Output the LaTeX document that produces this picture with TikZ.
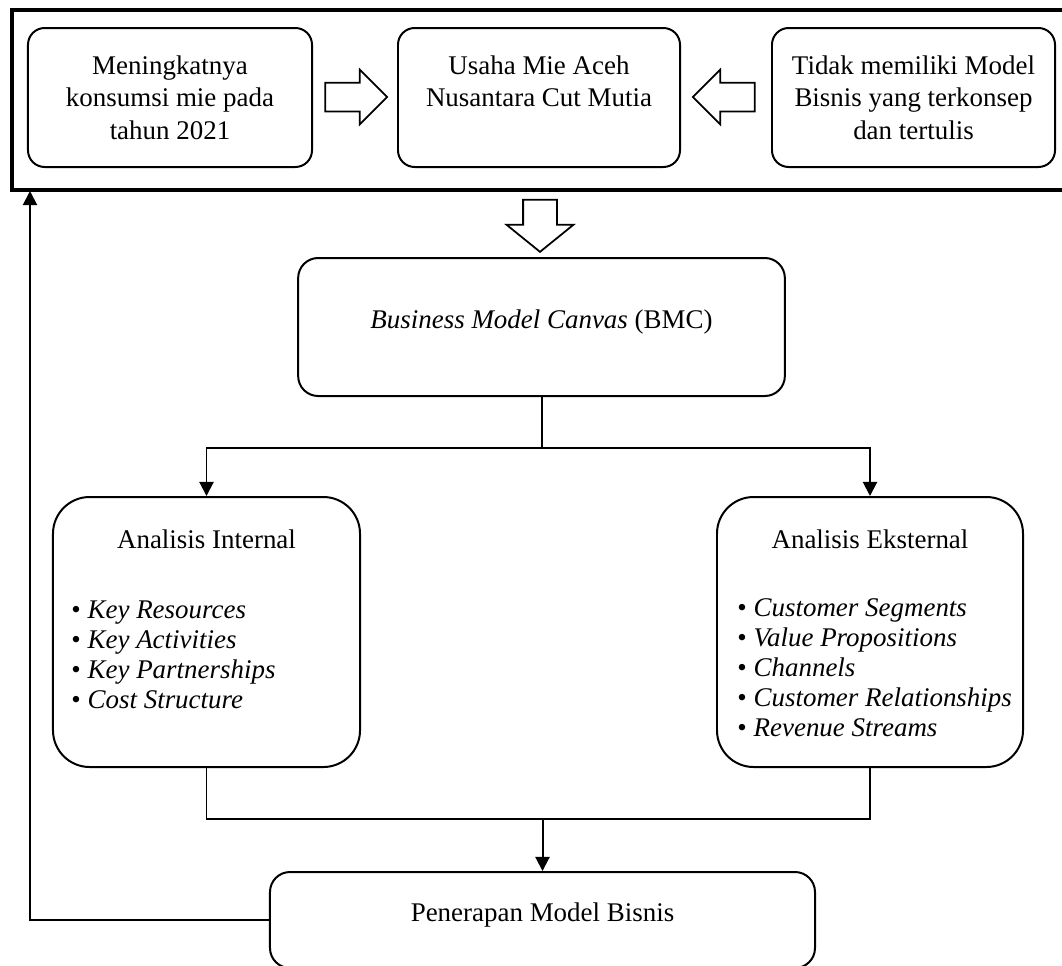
\documentclass[tikz,border=0pt]{standalone}
\usepackage{fontspec}
\setmainfont{Liberation Serif}
\usetikzlibrary{arrows.meta,shapes.arrows}

\begin{document}
\begin{tikzpicture}[x=0.015cm, y=-0.015cm,
	font=\fontsize{11.5}{13.8}\selectfont,
	frame/.style={draw, line width=1.3pt, inner sep=0pt},
	box/.style={draw, line width=0.85pt, rounded corners=0.25cm, align=center, inner sep=0pt},
	bigbox/.style={draw, line width=0.85pt, rounded corners=0.55cm, inner sep=0pt},
	blockarrow/.style={draw, line width=0.75pt, single arrow, inner sep=0pt},
	link/.style={line width=0.85pt},
	tip/.style={-{Triangle[length=6pt,width=6pt]}},
	list/.style={anchor=north west, align=left, inner sep=0pt, font=\fontsize{11.5}{12.8}\selectfont}]
	\useasboundingbox (0,0) rectangle (1062,965);

	% Top frame with the three starting points
	\node[frame, minimum width=16.02cm, minimum height=2.7cm] (topframe) at (546,100) {};
	\node[box, minimum width=4.26cm, minimum height=2.085cm] (trend) at (170,97.5) {Meningkatnya\\konsumsi mie pada\\tahun 2021};
	\node[box, minimum width=4.23cm, minimum height=2.085cm] (usaha) at (539,97.5) {Usaha Mie Aceh\\Nusantara Cut Mutia\\~};
	\node[box, minimum width=4.245cm, minimum height=2.085cm] (problem) at (913.5,97.5) {Tidak memiliki Model\\Bisnis yang terkonsep\\dan tertulis};

	% Block arrows
	\node[blockarrow, text width=0pt, text height=0.405cm, single arrow head extend=0.195cm, minimum height=0.93cm] (arrowa) at (349,97) {};
	\node[blockarrow, shape border rotate=180, text width=0pt, text height=0.405cm, single arrow head extend=0.195cm, minimum height=0.93cm] (arrowb) at (731,97) {};
	\node[blockarrow, shape border rotate=270, text width=0.48cm, text height=0pt, text depth=0pt, single arrow head extend=0.25cm, single arrow tip angle=102, minimum height=0.78cm] (arrowc) at (540,219) {};

	% BMC
	\node[box, rounded corners=0.3cm, minimum width=7.3cm, minimum height=2.07cm, text depth=6.8pt] (bmc) at (541.5,327) {\textit{Business Model Canvas} (BMC)};

	% Internal and external analysis
	\node[bigbox, minimum width=4.605cm, minimum height=4.05cm] (internal) at (206.5,632) {};
	\node[anchor=base] (internaltitle) at (206.5,548) {Analisis Internal};
	\node[list] (internallist) at (71,600) {\textbullet\ \textit{Key Resources}\\\textbullet\ \textit{Key Activities}\\\textbullet\ \textit{Key Partnerships}\\\textbullet\ \textit{Cost Structure}};

	\node[bigbox, minimum width=4.59cm, minimum height=4.05cm] (external) at (870,632) {};
	\node[anchor=base] (externaltitle) at (870,548) {Analisis Eksternal};
	\node[list] (externallist) at (737,598) {\textbullet\ \textit{Customer Segments}\\\textbullet\ \textit{Value Propositions}\\\textbullet\ \textit{Channels}\\\textbullet\ \textit{Customer Relationships}\\\textbullet\ \textit{Revenue Streams}};

	% Result
	\node[box, rounded corners=0.3cm, minimum width=8.175cm, minimum height=1.44cm, text depth=6.5pt] (apply) at (542.5,920) {Penerapan Model Bisnis};

	% Connectors
	\draw[link, tip] (bmc.south) -- ++(0,51) -| (internal.north);
	\draw[link, tip] (bmc.south) -- ++(0,51) -| (external.north);
	\draw[link] (internal.south) -- ++(0,51) -| (external.south);
	\coordinate (merge) at (apply.north |- 0,818);
	\draw[link, tip] (merge) -- (apply.north);
	\coordinate (back) at (30,191);
	\draw[link, tip] (apply.west) -| (back);
\end{tikzpicture}
\end{document}
